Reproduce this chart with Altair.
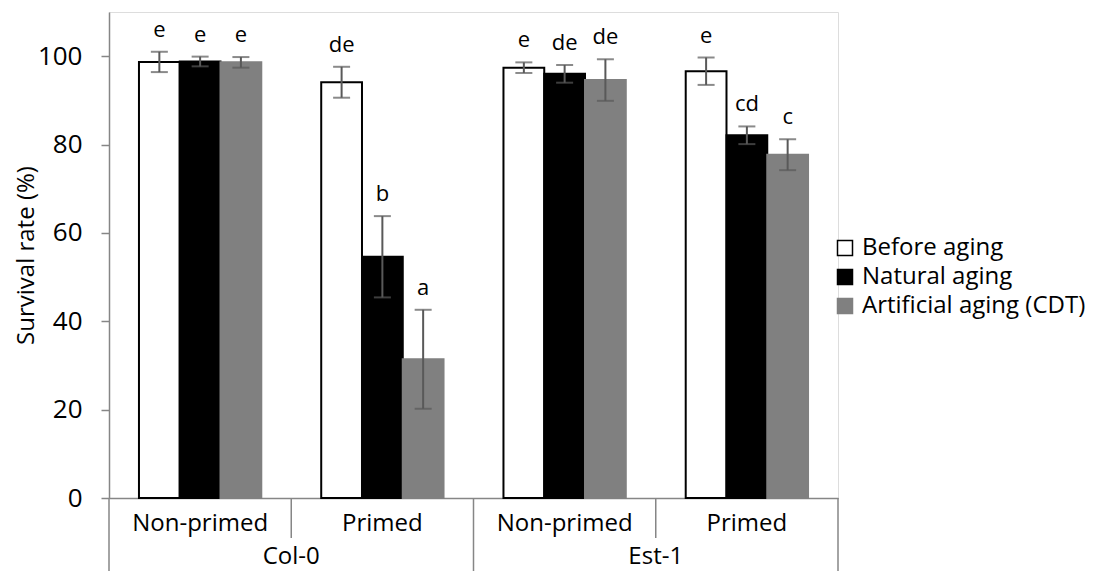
import altair as alt
import pandas as pd

# ---- data ----
genotypes = ["Col-0", "Col-0", "Est-1", "Est-1"]
treatments = ["Non-primed", "Primed", "Non-primed", "Primed"]
series_names = ["Before aging", "Natural aging", "Artificial aging (CDT)"]

before_mean = [98.7, 94.1, 97.4, 96.6]
natural_mean = [98.8, 54.6, 96.0, 82.1]
artificial_mean = [98.6, 31.4, 94.6, 77.7]

before_err = [2.3, 3.5, 1.2, 3.1]
natural_err = [1.1, 9.2, 2.0, 2.0]
artificial_err = [1.2, 11.2, 4.7, 3.5]

before_letters = ["e", "de", "e", "e"]
natural_letters = ["e", "b", "de", "cd"]
artificial_letters = ["e", "a", "de", "c"]

y_ticks = [0, 20, 40, 60, 80, 100]

# ---- tables ----
cats = [f"{g} {t}" for g, t in zip(genotypes, treatments)]
rows = []
for s, means, errs, lets in [
    (series_names[0], before_mean, before_err, before_letters),
    (series_names[1], natural_mean, natural_err, natural_letters),
    (series_names[2], artificial_mean, artificial_err, artificial_letters),
]:
    for c, m, e, l in zip(cats, means, errs, lets):
        rows.append({"cat": c, "series": s, "mean": m, "lo": m - e, "hi": m + e, "letter": l})
df = pd.DataFrame(rows)
cat_df = pd.DataFrame({"cat": cats, "genotype": genotypes, "treatment": treatments})

FONT = "Open Sans"
AXIS_GRAY = "#868686"
ERR_GRAY = "#595959"

x_enc = alt.X("cat:N", sort=cats, scale=alt.Scale(paddingInner=0, paddingOuter=0), title=None)
x_plain = alt.X("cat:N", sort=cats, title=None)
xo_enc = alt.XOffset("series:N", sort=series_names,
                     scale=alt.Scale(paddingOuter=0.735, paddingInner=0))

y_scale = alt.Scale(domain=[0, 110], nice=False)

legend = alt.Legend(
    title=None, orient="none", legendX=724, legendY=224,
    symbolType="square", symbolSize=225, symbolStrokeWidth=1.5,
    labelFont=FONT, labelFontSize=24, labelColor="black", labelOffset=5,
    labelLimit=0, rowPadding=5, padding=0,
)

base = alt.Chart(df)

bars = base.mark_bar(strokeWidth=2).encode(
    x=x_enc,
    xOffset=xo_enc,
    y=alt.Y("mean:Q", scale=y_scale, title="Survival rate (%)",
            axis=alt.Axis(values=y_ticks)),
    fill=alt.Fill("series:N", sort=series_names,
                  scale=alt.Scale(domain=series_names, range=["white", "black", "#808080"]),
                  legend=legend),
    stroke=alt.Stroke("series:N", sort=series_names,
                      scale=alt.Scale(domain=series_names, range=["black", "black", "#808080"]),
                      legend=legend),
)

err_rule = base.mark_rule(color=ERR_GRAY, strokeWidth=2).encode(
    x=x_plain, xOffset=xo_enc,
    y=alt.Y("lo:Q", scale=y_scale, title="Survival rate (%)"), y2="hi:Q",
)
cap_lo = base.mark_tick(color=ERR_GRAY, thickness=2, size=17, orient="horizontal").encode(
    x=x_plain, xOffset=xo_enc, y=alt.Y("lo:Q", scale=y_scale, title="Survival rate (%)"),
)
cap_hi = base.mark_tick(color=ERR_GRAY, thickness=2, size=17, orient="horizontal").encode(
    x=x_plain, xOffset=xo_enc, y=alt.Y("hi:Q", scale=y_scale, title="Survival rate (%)"),
)
letters = base.mark_text(font=FONT, fontSize=22, baseline="alphabetic", dy=-15, color="black").encode(
    x=x_plain, xOffset=xo_enc, y=alt.Y("hi:Q", scale=y_scale, title="Survival rate (%)"),
    text="letter:N",
)

cbase = alt.Chart(cat_df)
div_long = cbase.transform_filter(alt.datum.treatment == "Non-primed").mark_rule(
    color=AXIS_GRAY, strokeWidth=1.5).encode(
    x=alt.X("cat:N", sort=cats, bandPosition=0, title=None), y=alt.value(486), y2=alt.value(600))
div_short = cbase.transform_filter(alt.datum.treatment == "Primed").mark_rule(
    color=AXIS_GRAY, strokeWidth=1.5).encode(
    x=alt.X("cat:N", sort=cats, bandPosition=0, title=None), y=alt.value(486), y2=alt.value(526))
div_end = cbase.transform_filter(alt.datum.cat == cats[-1]).mark_rule(
    color=AXIS_GRAY, strokeWidth=1.5).encode(
    x=alt.X("cat:N", sort=cats, bandPosition=1, title=None), y=alt.value(486), y2=alt.value(600))

treat_text = cbase.mark_text(font=FONT, fontSize=24, baseline="alphabetic", color="black").encode(
    x=x_plain, y=alt.value(519), text="treatment:N")
geno_text = cbase.transform_filter(alt.datum.treatment == "Primed").mark_text(
    font=FONT, fontSize=24, baseline="alphabetic", color="black").encode(
    x=alt.X("cat:N", sort=cats, bandPosition=0, title=None), y=alt.value(552), text="genotype:N")

chart = alt.layer(
    bars, err_rule, cap_lo, cap_hi, letters,
    div_long, div_short, div_end, treat_text, geno_text,
).properties(
    width=729, height=486,
    autosize=alt.AutoSizeParams(type="none"),
    padding={"left": 101, "top": 4, "right": 254, "bottom": 73},
).configure_view(stroke=None).configure(font=FONT).configure_axisX(
    labels=False, ticks=False, grid=False, domainColor=AXIS_GRAY, domainWidth=1.5,
).configure_axisY(
    grid=False, domainColor=AXIS_GRAY, domainWidth=1.5,
    tickColor=AXIS_GRAY, tickWidth=1.5, tickSize=8,
    labelFont=FONT, labelFontSize=26, labelColor="black", labelPadding=19,
    titleFont=FONT, titleFontSize=24, titleFontWeight="normal", titleColor="black",
    titleX=-83, titleY=243, titleAngle=-90, titleAlign="center", titleBaseline="middle",
)

chart.save("out.html", embed_options={"renderer": "svg", "actions": False})
